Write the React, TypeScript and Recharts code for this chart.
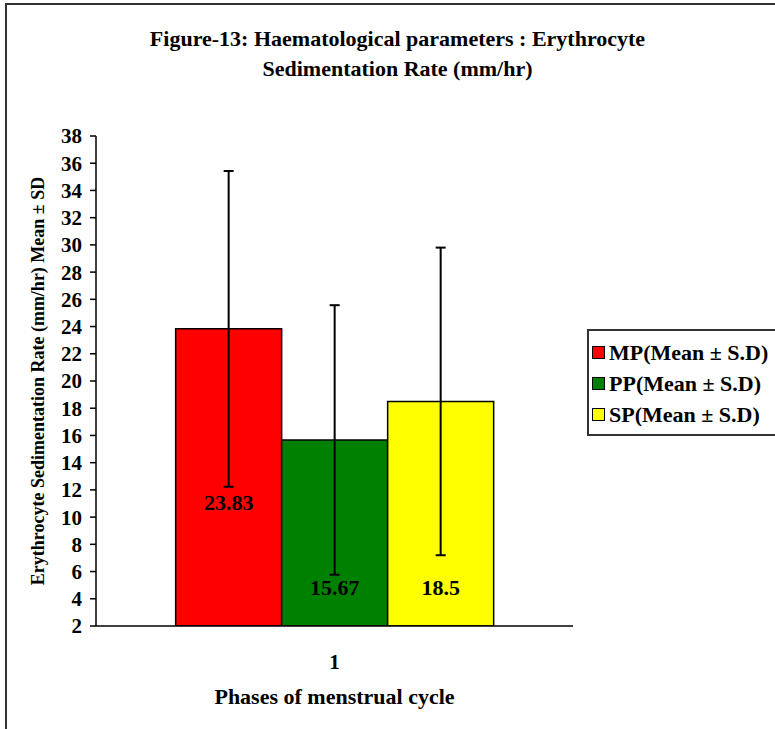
import React from 'react';
import { BarChart, Bar, XAxis, YAxis, ErrorBar, Legend, LabelList } from 'recharts';

const categories = ['1'];
const seriesKeys = ['mp', 'pp', 'sp'];
const seriesNames = ['MP(Mean ± S.D)', 'PP(Mean ± S.D)', 'SP(Mean ± S.D)'];
const means = [23.83, 15.67, 18.5];
const sds = [11.6, 9.9, 11.3];
const colors = ['#ff0000', '#008000', '#ffff00'];
const yTicks = [2, 4, 6, 8, 10, 12, 14, 16, 18, 20, 22, 24, 26, 28, 30, 32, 34, 36, 38];

const font = '"Liberation Serif", "Times New Roman", serif';

// value label sits this far above the bar base (as in the original)
const labelLift: Record<string, number> = { mp: 124, pp: 39, sp: 39 };

const chartData = categories.map((cat) => {
  const row: Record<string, string | number> = { phase: cat };
  seriesKeys.forEach((k, i) => {
    row[k] = means[i];
    row[k + 'Sd'] = sds[i];
  });
  return row;
});

const renderLegend = () => (
  <div
    style={{
      border: '2px solid #333',
      background: '#fff',
      padding: '6px 0 4px 3px',
      width: 200,
      fontFamily: font,
      fontWeight: 'bold',
      fontSize: 22,
      color: '#000',
    }}
  >
    {seriesNames.map((name, i) => (
      <div key={name} style={{ display: 'flex', alignItems: 'center', height: 31, whiteSpace: 'nowrap' }}>
        <span
          style={{
            display: 'inline-block',
            width: 11,
            height: 11,
            background: colors[i],
            border: '1px solid #000',
            marginRight: 4,
          }}
        />
        {name}
      </div>
    ))}
  </div>
);

const makeLabel = (key: string) => (props: any) => {
  const { x, y, width, height, value } = props;
  return (
    <text
      x={x + width / 2}
      y={y + height - labelLift[key]}
      textAnchor="middle"
      dominantBaseline="central"
      fontFamily={font}
      fontWeight="bold"
      fontSize={22}
      fill="#000"
    >
      {value}
    </text>
  );
};

export default function App() {
  return (
    <div style={{ position: 'absolute', left: 0, top: 0, width: 775, height: 729, overflow: 'hidden', background: '#fff' }}>
      <div
        style={{
          position: 'absolute',
          left: 5,
          top: 3,
          width: 820,
          height: 800,
          border: '2px solid #333',
        }}
      />
      <div
        style={{
          position: 'absolute',
          left: 0,
          top: 24,
          width: 795,
          textAlign: 'center',
          fontFamily: font,
          fontWeight: 'bold',
          fontSize: 22,
          lineHeight: '30px',
          color: '#000',
        }}
      >
        Figure-13: Haematological parameters : Erythrocyte
        <br />
        Sedimentation Rate (mm/hr)
      </div>
      <div style={{ position: 'absolute', left: 0, top: 0 }}>
        <BarChart
          width={775}
          height={729}
          data={chartData}
          margin={{ top: 136, right: 202, bottom: 43, left: 36 }}
          barGap={0}
          barCategoryGap="16.7%"
        >
          <XAxis
            dataKey="phase"
            height={60}
            stroke="#000"
            strokeWidth={1.5}
            tickLine={false}
            tickMargin={22}
            tick={{ fill: '#000', fontFamily: font, fontWeight: 'bold', fontSize: 21 }}
            label={{
              value: 'Phases of menstrual cycle',
              position: 'bottom',
              offset: 2,
              fill: '#000',
              fontFamily: font,
              fontWeight: 'bold',
              fontSize: 22,
            }}
          />
          <YAxis
            width={60}
            domain={[2, 38]}
            ticks={yTicks}
            interval={0}
            allowDataOverflow
            stroke="#000"
            strokeWidth={1.5}
            tickSize={6}
            tickMargin={8}
            tick={{ fill: '#000', fontFamily: font, fontWeight: 'bold', fontSize: 21 }}
            label={{
              value: 'Erythrocyte Sedimentation Rate (mm/hr) Mean ± SD',
              angle: -90,
              position: 'center',
              dx: -28,
              fill: '#000',
              fontFamily: font,
              fontWeight: 'bold',
              fontSize: 18,
            }}
          />
          <Legend
            layout="horizontal"
            verticalAlign="middle"
            align="center"
            width={200}
            content={renderLegend}
            wrapperStyle={{ left: 587, top: 329, width: 200 }}
          />
          {seriesKeys.map((k, i) => (
            <Bar
              key={k}
              dataKey={k}
              name={seriesNames[i]}
              fill={colors[i]}
              stroke="#000"
              strokeWidth={1.5}
              isAnimationActive={false}
            >
              <ErrorBar dataKey={k + 'Sd'} width={5} stroke="#000" strokeWidth={2} direction="y" />
              <LabelList dataKey={k} content={makeLabel(k)} />
            </Bar>
          ))}
        </BarChart>
      </div>
    </div>
  );
}
